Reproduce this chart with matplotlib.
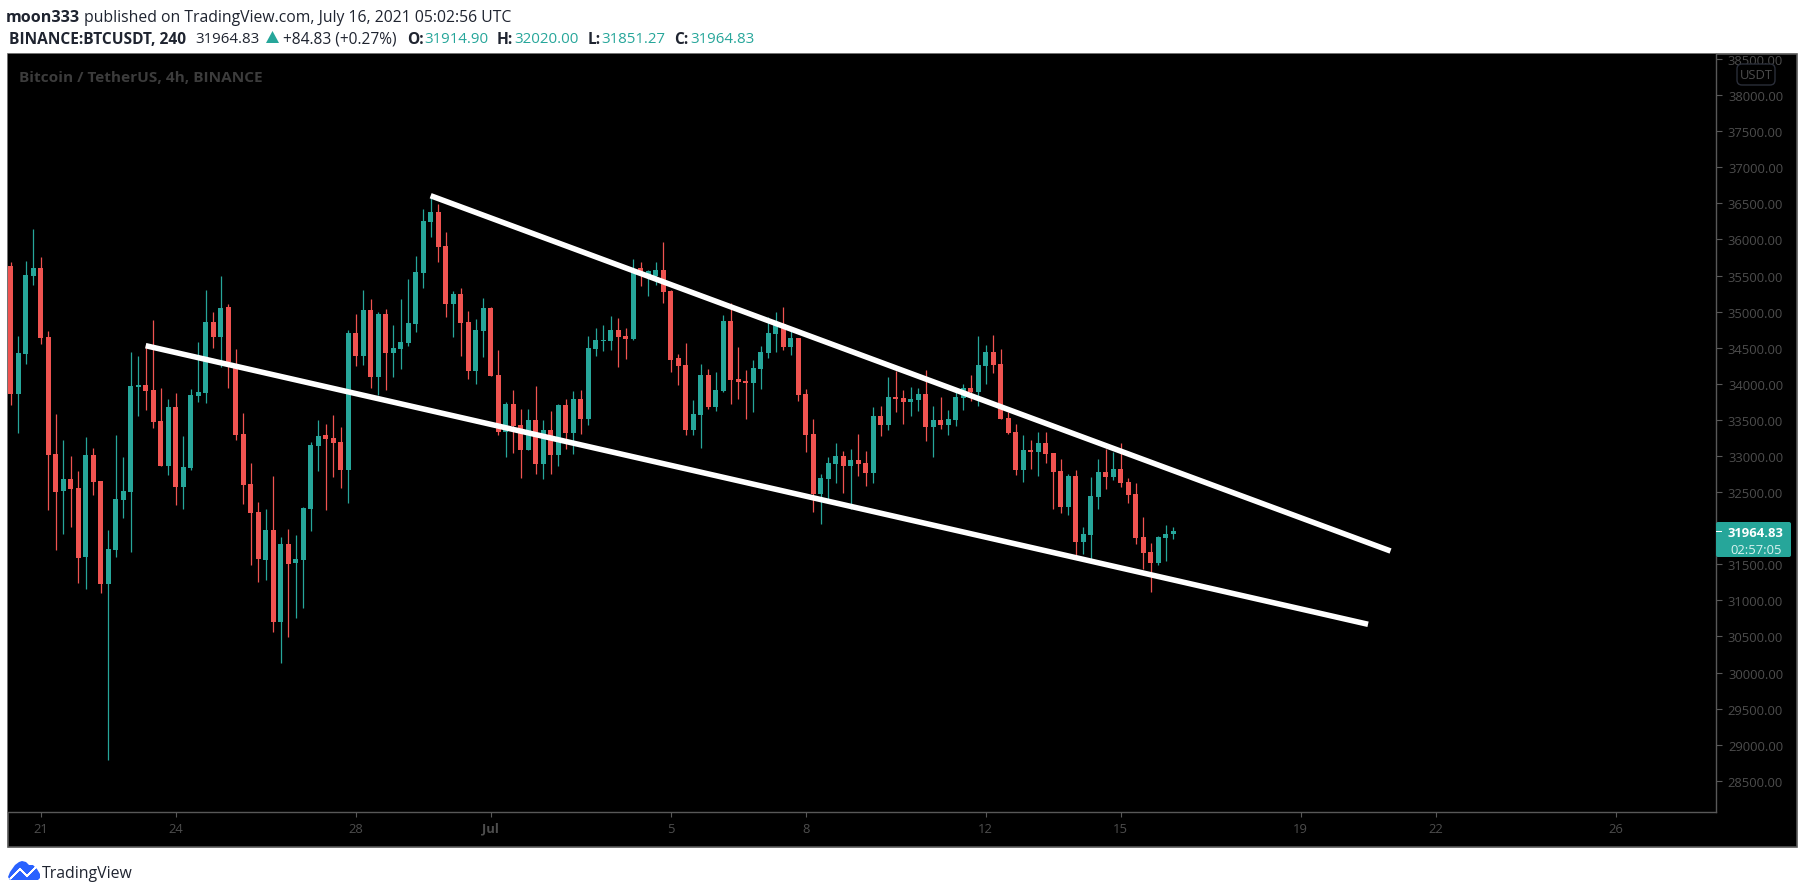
import numpy as np
import matplotlib
matplotlib.use('Agg')
from matplotlib import pyplot as plt
from matplotlib.patches import FancyBboxPatch, Polygon, Rectangle
from matplotlib.transforms import Affine2D

# 4h candles
opens = [35632,33859,34413,35493,35604,34648,33028,32515,32682,32557,
         31601,33014,32654,31228,31698,32391,32501,33956,33984,33914,
         33485,32862,33679,32571,32834,33831,33873,34856,34648,35064,
         34275,33305,32612,32225,31560,31975,30701,31781,31518,31560,
         32266,33139,33291,33250,33194,32806,34704,34385,35022,34095,
         34967,34427,34482,34565,34829,35535,36241,36380,35909,35106,
         35244,34856,34178,34731,35050,34122,33333,33720,33430,33083,
         33499,32890,33360,33014,33707,33319,33790,33513,34482,34593,
         34593,34745,34662,34621,35604,35466,35493,35576,35285,34358,
         34261,33360,33568,34122,33679,33900,34870,34067,34039,34011,
         34205,34427,34690,34829,34510,34634,33859,33305,32474,32682,
         32890,33000,32862,32945,32903,32765,33555,33430,33817,33804,
         33748,33776,33859,33402,33499,33430,33499,33804,33942,33887,
         34247,34441,34275,33527,33333,32806,33083,33056,33181,33042,
         32792,32294,32723,31809,31906,32432,32779,32710,32820,32640,
         32474,31879,31670,31518,31865,31914.90]
closes = [33859,34427,35507,35604,34634,33014,32501,32682,32543,31587,
          33014,32640,31228,31712,32405,32515,33970,33984,33900,33471,
          32862,33679,32571,32848,33845,33887,34856,34648,35050,34302,
          33291,32598,32211,31574,31975,30701,31781,31504,31574,32280,
          33153,33277,33236,33181,32806,34704,34385,35022,34095,34967,
          34427,34496,34579,34842,35549,36255,36380,35895,35106,35244,
          34842,34178,34745,35050,34108,33333,33720,33416,33083,33499,
          32890,33360,33014,33707,33319,33790,33513,34496,34607,34607,
          34745,34648,34621,35590,35535,35563,35576,35272,34330,34247,
          33360,33582,34122,33679,33914,34870,34053,34025,34011,34219,
          34441,34704,34815,34510,34634,33845,33291,32474,32696,32903,
          33000,32862,32945,32890,32765,33555,33430,33817,33790,33748,
          33790,33859,33402,33499,33430,33513,33817,33942,33887,34261,
          34441,34261,33513,33319,32806,33083,33056,33181,33028,32779,
          32294,32723,31809,31920,32446,32779,32710,32820,32626,32460,
          31865,31657,31518,31879,31920,31964.83]
highs = [35687,34662,35701,36144,35756,34731,33582,33222,33000,32792,
         33263,33111,32654,31975,33291,32986,34441,34385,34538,34884,
         33942,33790,33873,33277,33928,34579,35299,34994,35493,35106,
         34482,33596,32903,32364,32266,32723,31879,31989,31906,32294,
         33194,33499,33443,33568,33402,34745,34967,35299,35175,34994,
         35036,34815,35175,35452,35770,36421,36601,36490,36103,35285,
         35327,35008,34898,35189,35064,34468,33748,33914,33651,33651,
         33970,33499,33623,33720,33790,33900,33914,34662,34773,34815,
         34939,34911,34773,35729,35687,35576,35687,35964,35299,34413,
         34565,33776,34275,34205,34164,34953,35119,34510,34192,34330,
         34524,34925,34994,35064,34731,34634,33928,33513,32751,32986,
         33181,33069,33097,33305,33069,33679,33693,34095,34178,33914,
         33956,33942,34192,33693,33817,33637,33887,33998,34122,34662,
         34538,34676,34482,33610,33443,33291,33222,33333,33333,33042,
         32959,32751,32806,32017,32710,32959,33097,33056,33181,32696,
         32626,32156,31795,31892,32045,32020.00]
lows = [33707,33319,34275,35369,34552,32252,31698,31920,32017,31242,
        31158,32460,31103,28790,31601,32142,31670,33555,33637,33388,
        32862,32737,32322,32266,32806,33748,33734,34496,34233,33942,
        33222,32336,31491,31255,31283,30563,30133,30494,30757,30895,
        31961,32792,32252,32710,32557,32350,34247,34261,33942,33845,
        33914,34095,34205,34524,34718,35327,36034,35687,34925,34648,
        34385,34067,33998,34372,34108,33291,32986,33042,32696,33083,
        32751,32682,32751,32862,33097,33028,33305,33430,34385,34455,
        34468,34233,34344,34607,35355,35216,35369,35119,34164,33984,
        33291,33291,33111,33651,33623,33887,33720,33790,33513,33610,
        33928,34358,34441,34468,34399,33762,33056,32225,32059,32364,
        32626,32488,32266,32723,32585,32626,33277,33360,33610,33443,
        33555,33623,33208,32986,33374,33291,33416,33637,33762,33693,
        33998,34150,33513,33305,32737,32640,32820,32723,32903,32266,
        32211,32183,31615,31643,31574,32266,32543,32668,32571,32350,
        31781,31435,31117,31491,31546,31851.27]

# trend lines: bar number and price at each end
upper_x = [56, 184]
upper_y = [36605, 31684]
lower_x = [18, 181]
lower_y = [34528, 30669]

price_ticks = np.arange(28500, 38501, 500)
date_ticks = [4, 22, 46, 64, 88, 106, 130, 148, 172, 190, 214]
date_labels = ['21', '24', '28', 'Jul', '5', '8', '12', '15', '19', '22', '26']

UP = '#26a69a'
DOWN = '#ef5350'
GREY = '#4d4d4d'
BORDER = '#585858'
W, H = 1805, 895

plt.rcParams['font.family'] = ['Open Sans', 'DejaVu Sans']

fig = plt.figure(figsize=(W / 100, H / 100), dpi=100, facecolor='white')
# pixel coordinates of the screenshot, y going down
px = Affine2D().scale(1, -1).translate(0, H)

fig.add_artist(Rectangle((8, 55), 1789, 793, transform=px, facecolor='black',
                         edgecolor=BORDER, linewidth=1.2, zorder=-1))

ax = fig.add_axes([8 / W, 1 - 813 / H, 1708 / W, 758 / H], facecolor='black')
ax.set_xlim(-0.36, 227.4)
ax.set_ylim(28069, 38568)

opens_a, closes_a = np.array(opens), np.array(closes)
highs_a, lows_a = np.array(highs), np.array(lows)
bars = np.arange(len(opens))
colors = np.where(closes_a >= opens_a, UP, DOWN)

ax.vlines(bars, lows_a, highs_a, colors=colors, linewidth=0.9, zorder=2)
ax.bar(bars, np.abs(closes_a - opens_a), bottom=np.minimum(opens_a, closes_a),
       width=0.67, color=colors, linewidth=0, zorder=3)

ax.plot(upper_x, upper_y, color='white', linewidth=4.0, solid_capstyle='butt', zorder=4)
ax.plot(lower_x, lower_y, color='white', linewidth=4.0, solid_capstyle='butt', zorder=4)

for side in ['top', 'left']:
    ax.spines[side].set_visible(False)
for side in ['right', 'bottom']:
    ax.spines[side].set_color(BORDER)
    ax.spines[side].set_linewidth(1.0)

ax.yaxis.tick_right()
ax.set_yticks(price_ticks)
# 32000.00 sits under the last price tag in the screenshot
ax.set_yticklabels(['' if p == 32000 else '%.2f' % p for p in price_ticks], ha='right')
ax.tick_params(axis='y', length=4.3, width=0.8, color=BORDER, labelcolor=GREY,
               labelsize=9.4, pad=44)
ax.set_xticks(date_ticks)
ax.set_xticklabels(date_labels)
ax.tick_params(axis='x', length=3.6, width=0.8, color=BORDER, labelcolor=GREY,
               labelsize=9.4, pad=3.5)
ax.get_xticklabels()[3].set_fontweight('bold')

# header
BLACK = '#1f2430'
fig.text(6, 18, 'moon333', transform=px, fontsize=11.6, fontweight='bold', color=BLACK, va='center')
fig.text(84, 18, 'published on TradingView.com, July 16, 2021 05:02:56 UTC', transform=px,
         fontsize=11.3, color=BLACK, va='center')
fig.text(9, 40, 'BINANCE:BTCUSDT, 240', transform=px, fontsize=11.2, fontweight='bold', color=BLACK, va='center')
fig.text(195, 40, '31964.83', transform=px, fontsize=10.8, color=BLACK, va='center')
fig.add_artist(Polygon([(266, 44), (279, 44), (272.5, 32)], transform=px, facecolor=UP, edgecolor='none'))
fig.text(283, 40, '+84.83 (+0.27%)', transform=px, fontsize=11.2, color=BLACK, va='center')
for x_lab, lab, x_val, val in [(407, 'O:', 424, '31914.90'), (497, 'H:', 514, '32020.00'),
                               (588, 'L:', 601, '31851.27'), (674, 'C:', 690, '31964.83')]:
    fig.text(x_lab, 40, lab, transform=px, fontsize=11.2, fontweight='bold', color=BLACK, va='center')
    fig.text(x_val, 40, val, transform=px, fontsize=10.8, color=UP, va='center')

fig.text(19, 78, 'Bitcoin / TetherUS, 4h, BINANCE', transform=px, fontsize=11.1,
         fontweight='bold', color='#3c3c3c', va='center')

# currency badge and last price tag
fig.add_artist(FancyBboxPatch((1740, 68), 32, 15, boxstyle='round,pad=3,rounding_size=5', transform=px,
                              facecolor='black', edgecolor='#2a2e39', linewidth=1))
fig.text(1756, 76, 'USDT', transform=px, fontsize=9.4, color=GREY, ha='center', va='center')
fig.add_artist(FancyBboxPatch((1717, 524), 73, 33, boxstyle='round,pad=1,rounding_size=2', transform=px,
                              facecolor=UP, edgecolor='none'))
fig.add_artist(Rectangle((1716, 531.5), 6, 1, transform=px, facecolor='white', edgecolor='none'))
fig.text(1783, 534, '31964.83', transform=px, fontsize=9.4, fontweight='bold', color='white', ha='right', va='center')
fig.text(1782, 551, '02:57:05', transform=px, fontsize=9.4, color='#d9f2ef', ha='right', va='center')

# logo
fig.add_artist(Polygon([(8, 878), (10, 873), (15, 866), (19, 863), (22, 862), (26, 863), (29, 866), (33, 866),
                        (37, 870), (40, 875), (40, 879), (38, 881), (10, 881)], transform=px,
                       facecolor='#2962ff', edgecolor='none'))
fig.add_artist(Polygon([(10, 880), (20, 870), (27, 877), (36, 868), (27, 877), (20, 870)], transform=px,
                       closed=True, fill=False, edgecolor='white', linewidth=1.2))
fig.text(42, 874, 'TradingView', transform=px, fontsize=11.4, color=BLACK, va='center')

fig.savefig('out.png', dpi=100)
